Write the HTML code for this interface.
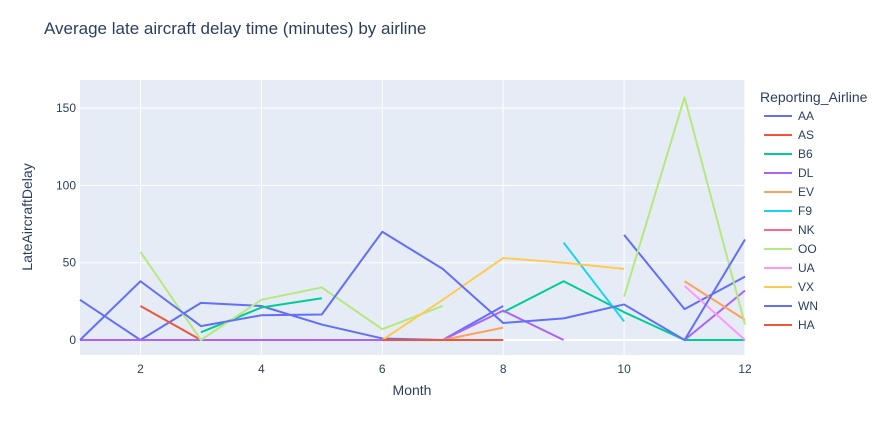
<!DOCTYPE html>
<html><head><meta charset="utf-8"><style>
body{margin:0;background:#fff;}
svg{font-family:"Liberation Sans",Arial,sans-serif;}
</style></head><body>
<svg id="chart" width="889" height="422" xmlns="http://www.w3.org/2000/svg">
<rect width="889" height="422" fill="#fff"/>
<text x="44" y="34" font-size="17" fill="#2a3f5f">Average late aircraft delay time (minutes) by airline</text>
<rect x="80" y="80" width="665" height="275" fill="#e5ecf6"/>
<g id="grid"></g><g id="lines"></g><g id="axes"></g><g id="legend"></g>
<text x="412" y="395" font-size="14" fill="#2a3f5f" text-anchor="middle">Month</text>
<text transform="translate(32,217) rotate(-90)" font-size="14" fill="#2a3f5f" text-anchor="middle">LateAircraftDelay</text>
</svg>
<script>
const months=[1,2,3,4,5,6,7,8,9,10,11,12];
const airlines=["AA","AS","B6","DL","EV","F9","NK","OO","UA","VX","WN","HA"];
const colors=["#636efa","#EF553B","#00cc96","#ab63fa","#FFA15A","#19d3f3","#FF6692","#B6E880","#FF97FF","#FECB52","#636efa","#EF553B"];
const sAA=[26,0,24,22,10,1,0,22,null,68,20,41];
const sAS=[null,22,0,0,0,null,null,null,null,null,null,null];
const sB6=[null,null,5,21,27,null,null,18,38,18,0,0];
const sDL=[0,0,0,0,0,0,0,19,0,null,0,32];
const sEV=[null,null,null,null,null,null,0,8,null,null,38,13];
const sF9=[null,null,null,null,null,null,null,null,63,12,null,null];
const sNK=[null,null,null,null,null,0,0,0,null,null,null,null];
const sOO=[null,57,0,26,34,7,22,null,null,28,157,10];
const sUA=[null,null,null,null,null,null,null,null,null,null,35,0];
const sVX=[null,null,null,null,null,0,26,53,50,46,null,null];
const sWN=[0,38,9,16,16.5,70,46,11,14,23,0,65];
const sHA=[null,null,null,null,null,0,0,0,null,null,null,null];
const series=[sAA,sAS,sB6,sDL,sEV,sF9,sNK,sOO,sUA,sVX,sWN,sHA];
const xTicks=[2,4,6,8,10,12];
const yTicks=[0,50,100,150];
const X=m=>80+(m-1)*665/11;
const Y=v=>340-v*1.546;
const NS="http://www.w3.org/2000/svg";
function mk(t,a,p){const e=document.createElementNS(NS,t);for(const k in a)e.setAttribute(k,a[k]);p.appendChild(e);return e;}
const grid=document.getElementById('grid'),axes=document.getElementById('axes'),lines=document.getElementById('lines'),leg=document.getElementById('legend');
xTicks.forEach(t=>{
 const l=mk('line',{x1:X(t),x2:X(t),y1:80,y2:355,stroke:'#fff','stroke-width':1},grid);
 
 
 const tx=mk('text',{x:X(t),y:373,'font-size':12,fill:'#2a3f5f','text-anchor':'middle'},axes);
 tx.textContent=t;
 
 
});
yTicks.forEach(t=>{
 const l=mk('line',{x1:80,x2:745,y1:Y(t),y2:Y(t),stroke:'#fff','stroke-width':t===0?2:1},grid);
 
 
 const tx=mk('text',{x:76,y:Y(t)+4,'font-size':12,fill:'#2a3f5f','text-anchor':'end'},axes);
 tx.textContent=t;
 
 
});
series.forEach((s,i)=>{
 let d='',pen=false;
 s.forEach((v,j)=>{if(v===null){pen=false;return;}d+=(pen?'L':'M')+X(months[j])+' '+Y(v)+' ';pen=true;});
 const p=mk('path',{d:d,fill:'none',stroke:colors[i],'stroke-width':2,'stroke-linejoin':'round'},lines);
 
 
});
const lt=mk('text',{x:760,y:102,'font-size':14,fill:'#2a3f5f'},leg);
lt.textContent='Reporting_Airline';


airlines.forEach((a,i)=>{
 const y=116+i*19;
 const g=mk('g',{},leg);
 
 
 mk('line',{x1:764,x2:792,y1:y,y2:y,stroke:colors[i],'stroke-width':2},g);
 const t=mk('text',{x:798,y:y+4,'font-size':12,fill:'#2a3f5f'},g);
 t.textContent=a;
});
</script>
</body></html>
